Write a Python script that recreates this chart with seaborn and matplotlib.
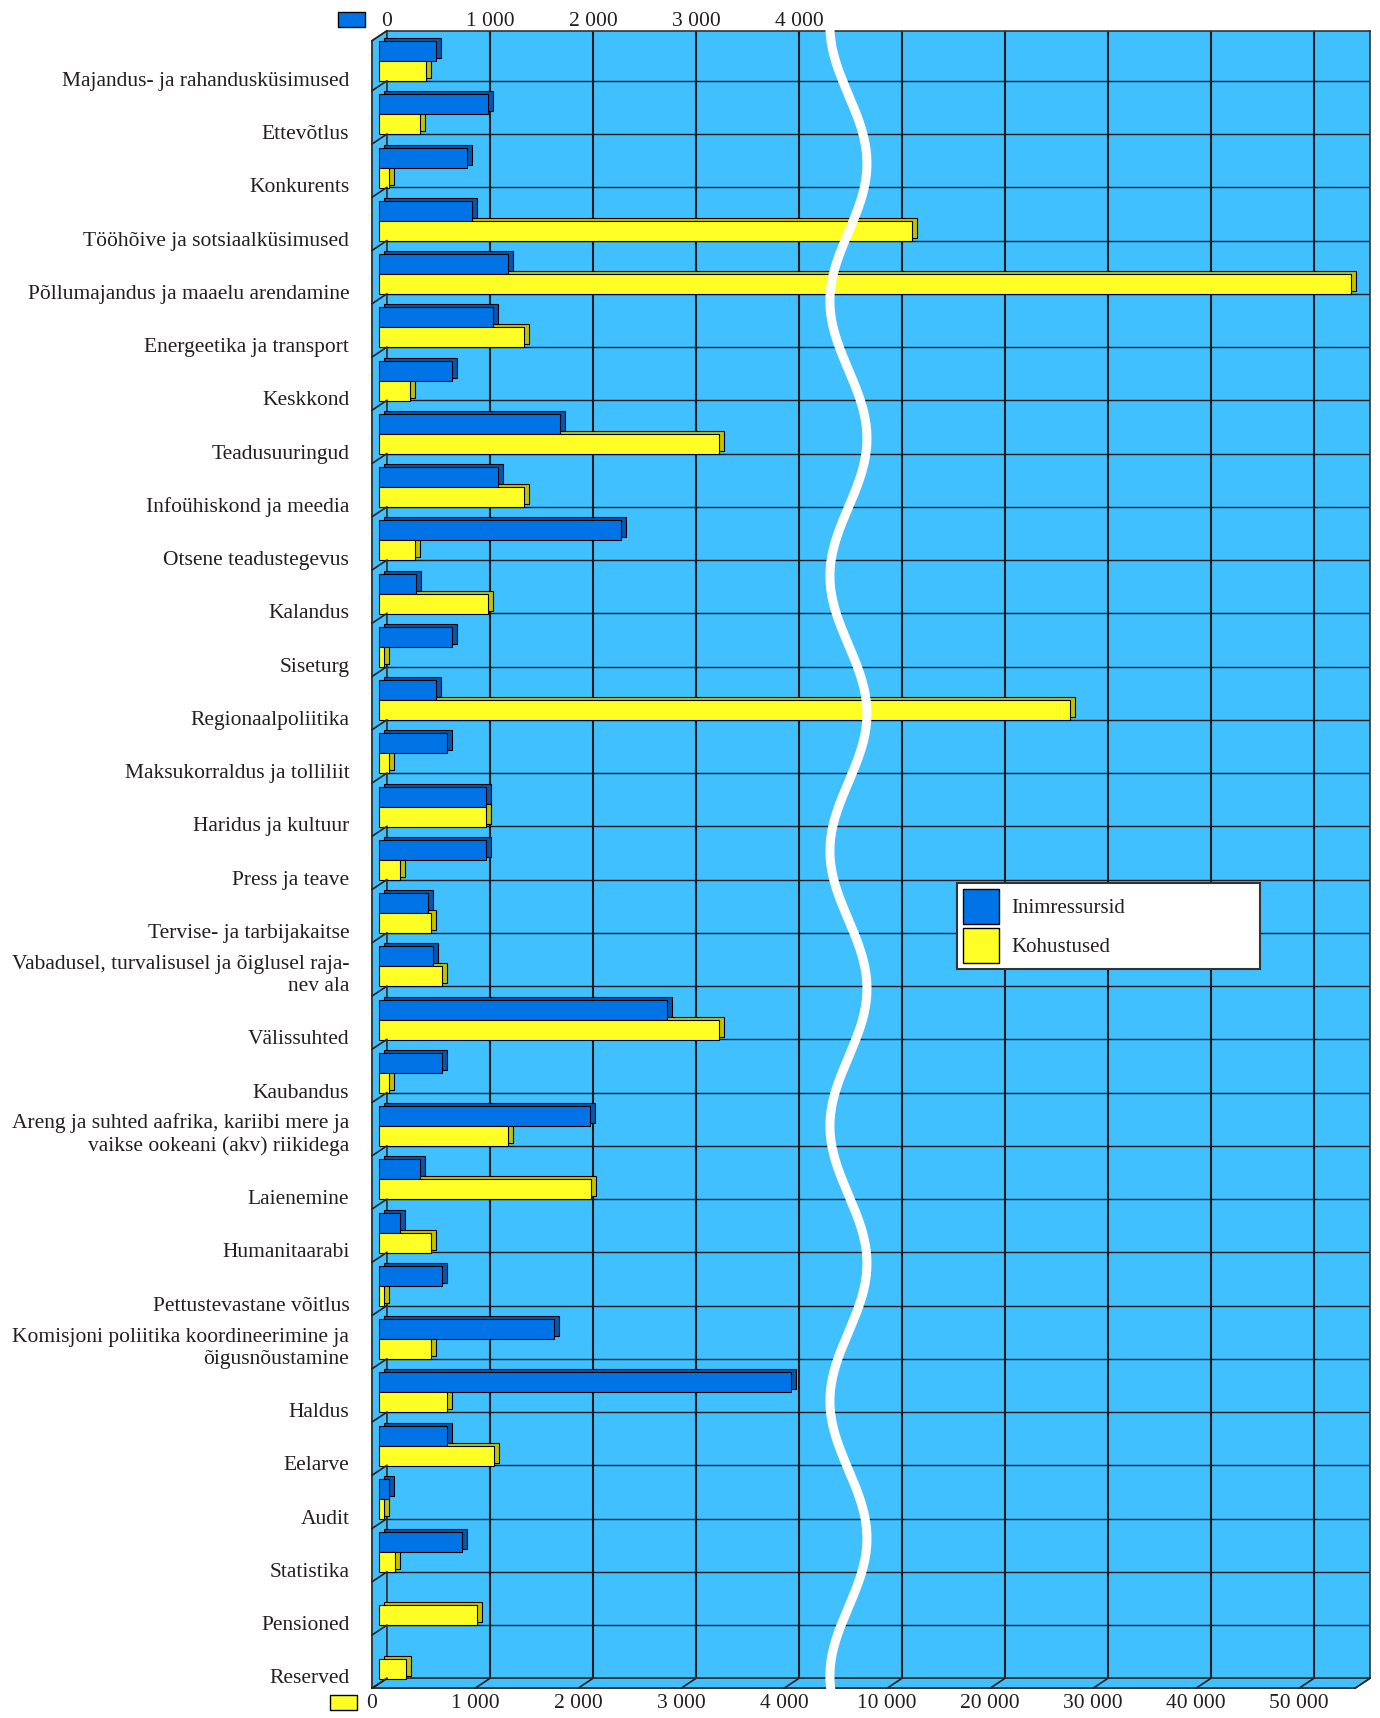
import numpy as np
import pandas as pd
import matplotlib
matplotlib.use("Agg")
import matplotlib.pyplot as plt
import matplotlib.transforms as mtransforms
from matplotlib.patches import Patch, Polygon, Rectangle, ConnectionPatch
from matplotlib.lines import Line2D
import seaborn as sns

# --- data ---
categories = [
    "Majandus- ja rahandusküsimused",
    "Ettevõtlus",
    "Konkurents",
    "Tööhõive ja sotsiaalküsimused",
    "Põllumajandus ja maaelu arendamine",
    "Energeetika ja transport",
    "Keskkond",
    "Teadusuuringud",
    "Infoühiskond ja meedia",
    "Otsene teadustegevus",
    "Kalandus",
    "Siseturg",
    "Regionaalpoliitika",
    "Maksukorraldus ja tolliliit",
    "Haridus ja kultuur",
    "Press ja teave",
    "Tervise- ja tarbijakaitse",
    "Vabadusel, turvalisusel ja õiglusel raja-\nnev ala",
    "Välissuhted",
    "Kaubandus",
    "Areng ja suhted aafrika, kariibi mere ja\nvaikse ookeani (akv) riikidega",
    "Laienemine",
    "Humanitaarabi",
    "Pettustevastane võitlus",
    "Komisjoni poliitika koordineerimine ja\nõigusnõustamine",
    "Haldus",
    "Eelarve",
    "Audit",
    "Statistika",
    "Pensioned",
    "Reserved",
]

inimressursid = [550, 1055, 850, 900, 1250, 1100, 705, 1755, 1155, 2350,
                 355, 705, 555, 655, 1035, 1035, 470, 520, 2790, 605,
                 2045, 400, 200, 605, 1700, 4000, 655, 95, 800, np.nan, np.nan]

kohustused = [455, 400, 95, 11700, 54300, 1405, 300, 3300, 1405, 350,
              1055, 50, 27100, 95, 1035, 200, 505, 605, 3300, 95,
              1250, 2060, 505, 50, 505, 655, 1115, 50, 150, 950, 255]

series = ["Inimressursid", "Kohustused"]

top_ticks = [0, 1000, 2000, 3000, 4000]
top_labels = ["0", "1 000", "2 000", "3 000", "4 000"]
bottom_ticks = [0, 1000, 2000, 3000, 4000, 10000, 20000, 30000, 40000, 50000]
bottom_labels = ["0", "1 000", "2 000", "3 000", "4 000",
                 "10 000", "20 000", "30 000", "40 000", "50 000"]

# colours
BG = "#40C0FF"
BLUE = "#0074E6"
BLUE_DARK = "#0756AE"
YELLOW = "#FFFF26"
YELLOW_DARK = "#C2C200"
INK = "#231f20"

# broken axis: linear up to 4000, then 10 000 per step
BREAK = 4000


def fwd(x):
    x = np.asarray(x, dtype=float)
    return np.where(x <= BREAK, x / 1000.0, 4 + x / 10000.0)


def inv(p):
    p = np.asarray(p, dtype=float)
    return np.where(p <= 4, p * 1000.0, np.maximum((p - 4) * 10000.0, BREAK))


sns.set_style("white")
plt.rcParams["font.family"] = ["Liberation Serif", "DejaVu Serif"]
plt.rcParams["text.color"] = INK
plt.rcParams["xtick.color"] = "#222222"
plt.rcParams["ytick.color"] = "#222222"
plt.rcParams["xtick.labelcolor"] = INK
plt.rcParams["ytick.labelcolor"] = INK

FS = 15.5
W, H = 1380, 1718
fig = plt.figure(figsize=(W / 100, H / 100), dpi=100)

# back plane and front plane (3D depth 15 px right, 10 px up)
DX, DY = 15, 10
b_left, b_top, b_right, b_bottom = 387, 30.7, 1370, 1678.3
ax = fig.add_axes([b_left / W, 1 - b_bottom / H, (b_right - b_left) / W, (b_bottom - b_top) / H])
axf = fig.add_axes([(b_left - DX) / W, 1 - (b_bottom + DY) / H,
                    (b_right - b_left) / W, (b_bottom - b_top) / H])

xmax = float(inv(9.544))
ylim = (30.5, -0.44)

for a in (ax, axf):
    a.set_xscale("function", functions=(fwd, inv))

df = pd.DataFrame({
    "kategooria": categories * 2,
    "väärtus": inimressursid + kohustused,
    "seeria": [series[0]] * len(categories) + [series[1]] * len(categories),
}).dropna()

bar_kw = dict(data=df, y="kategooria", x="väärtus", hue="seeria", order=categories,
              hue_order=series, orient="y", width=0.752, saturation=1, errorbar=None,
              edgecolor="black", linewidth=0.8, legend=False, ax=ax)

# side / top faces (behind), then front faces
sns.barplot(palette=[BLUE_DARK, YELLOW_DARK], **bar_kw)
n_back = len(ax.patches)
sns.barplot(palette=[BLUE, YELLOW], **bar_kw)

back_tr = mtransforms.offset_copy(ax.transData, fig=fig, x=-2.7, y=-3.9, units="dots")
front_tr = mtransforms.offset_copy(ax.transData, fig=fig, x=-7.7, y=-6.9, units="dots")
for i, p in enumerate(ax.patches):
    p.set_transform(back_tr if i < n_back else front_tr)
    p.set_clip_on(False)
    p.set_zorder(3)

ax.set_xlim(0, xmax)
ax.set_ylim(*ylim)
ax.set_xlabel("")
ax.set_ylabel("")
ax.set_facecolor(BG)
ax.xaxis.remove_overlapping_locs = False
ax.set_xticks(top_ticks, top_labels)
ax.set_xticks(bottom_ticks[1:], minor=True)
ax.set_yticks([])
ax.set_yticks(np.arange(0.5, len(categories) - 1, 1), minor=True)
ax.xaxis.grid(True, which="minor", color="#1c1c1c", lw=1.5)
ax.yaxis.grid(True, which="minor", color="#1c1c1c", lw=1.0)
ax.set_axisbelow(True)
ax.tick_params(which="minor", length=0)
ax.tick_params(axis="x", which="major", top=True, labeltop=True, bottom=False,
               labelbottom=False, length=0, pad=0, labelsize=FS)
for s in ax.spines.values():
    s.set_color("#333333")
    s.set_linewidth(1.2)

# front plane: bottom axis for Kohustused and the category labels
axf.set_xlim(0, xmax)
axf.set_ylim(*ylim)
axf.patch.set_visible(False)
axf.spines[["top", "right"]].set_visible(False)
for s in ("left", "bottom"):
    axf.spines[s].set_color("#333333")
    axf.spines[s].set_linewidth(1.2)
axf.set_xticks(bottom_ticks, bottom_labels)
bounds = [ylim[1]] + list(np.arange(0.5, len(categories), 1))
axf.set_yticks(bounds, [""] + categories)
axf.tick_params(axis="x", length=5.4, width=1.2, pad=-1, labelsize=FS)
axf.tick_params(axis="y", length=5.5, width=1.2, pad=10.8, labelsize=FS)
for lab in axf.get_yticklabels():
    lab.set_va("bottom")

# wall and floor
def fp(x, y):
    return (x / W, 1 - y / H)

wall = Polygon([fp(b_left - DX, b_top + DY), fp(b_left, b_top), fp(b_left, b_bottom),
                fp(b_left - DX, b_bottom + DY)], closed=True, transform=fig.transFigure,
               facecolor=BG, edgecolor="#444444", lw=1.0, zorder=-1)
floor = Polygon([fp(b_left - DX, b_bottom + DY), fp(b_left, b_bottom), fp(b_right, b_bottom),
                 fp(b_right - DX, b_bottom + DY)], closed=True, transform=fig.transFigure,
                facecolor=BG, edgecolor="#444444", lw=1.0, zorder=-1)
fig.add_artist(wall)
fig.add_artist(floor)

for t in bottom_ticks + [xmax]:
    fig.add_artist(ConnectionPatch(xyA=(t, ylim[0]), coordsA=axf.transData,
                                   xyB=(t, ylim[0]), coordsB=ax.transData,
                                   color="#222222", lw=1.2, zorder=2))
for y in bounds:
    fig.add_artist(ConnectionPatch(xyA=(0, y), coordsA=axf.transData,
                                   xyB=(0, y), coordsB=ax.transData,
                                   color="#222222", lw=1.2, zorder=2))

# axis break marker (white wave)
wy = np.linspace(28, b_bottom + DY + 2, 500)
wx = b_left + 103 * (4.48 - 0.18 * np.cos(2 * np.pi * (wy - 301) / 275))
fig.add_artist(Line2D(wx / W, 1 - wy / H, transform=fig.transFigure,
                      color="white", lw=6.5, solid_capstyle="butt", zorder=4))

# small series keys at the two value axes
fig.add_artist(Rectangle(fp(338, 27), 27 / W, 15 / H, transform=fig.transFigure,
                         facecolor=BLUE, edgecolor="black", lw=1.0))
fig.add_artist(Rectangle(fp(330, 1710), 27 / W, 15 / H, transform=fig.transFigure,
                         facecolor=YELLOW, edgecolor="black", lw=1.0))

handles = [Patch(facecolor=BLUE, edgecolor="black", lw=1.0),
           Patch(facecolor=YELLOW, edgecolor="black", lw=1.0)]
leg = fig.legend(handles, series, loc="upper left",
                 bbox_to_anchor=(957 / W, 1 - 981 / H, 303 / W, 98 / H), mode="expand",
                 borderaxespad=0, fancybox=False, framealpha=1, edgecolor="#333333",
                 fontsize=15, handlelength=1.7, handleheight=2.2, handletextpad=0.6,
                 labelspacing=0.2, borderpad=0.3)
leg.get_frame().set_linewidth(1.5)
leg.set_zorder(5)

fig.savefig("out.png", dpi=100)
